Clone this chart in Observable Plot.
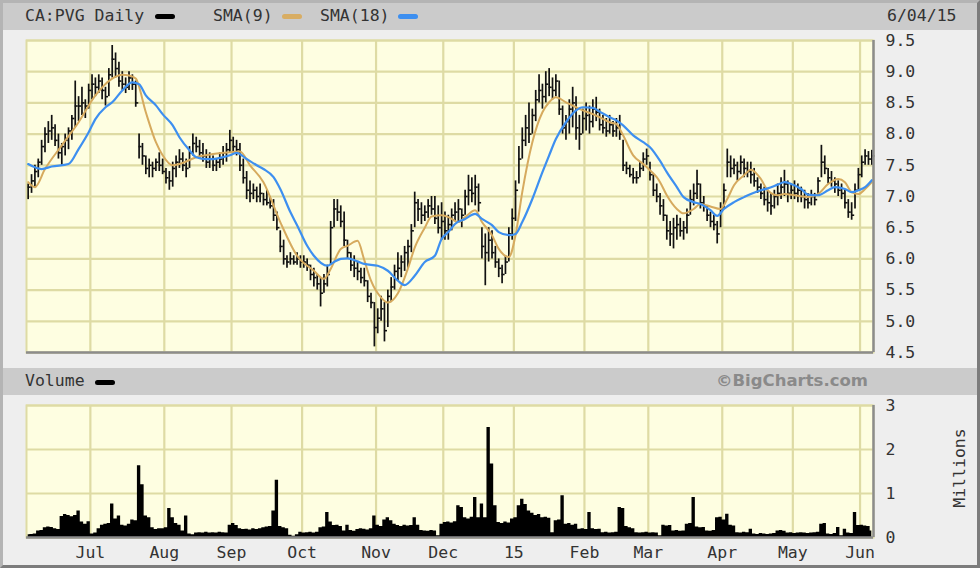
<!DOCTYPE html>
<html>
<head>
<meta charset="utf-8">
<script src="https://cdn.jsdelivr.net/npm/d3@7"></script>
<script src="https://cdn.jsdelivr.net/npm/@observablehq/plot@0.6"></script>
<style>
  body { margin: 0; background: #ffffff; }
  #chart { position: relative; width: 980px; height: 568px; background: #eeeeee; overflow: hidden;
           font-family: "DejaVu Sans Mono", monospace; color: #333; }
  .hbar { position: absolute; left: 3px; right: 3px; height: 27px; background: #cbcbcb; }
  .t { position: absolute; font-size: 16.5px; line-height: 20px; white-space: pre; color: #333; }
  .sw { position: absolute; width: 20px; height: 5px; border-radius: 3px; }
  .frame { position: absolute; left: 0; top: 0; width: 980px; height: 568px; box-sizing: border-box;
           border: 3px solid; border-color: #b4b4b4 #7c7c7c #7c7c7c #b4b4b4; pointer-events: none; }
  .svgwrap { position: absolute; left: 0; }
</style>
</head>
<body>
<div id="chart">
  <div class="hbar" style="top:3px"></div>
  <div class="t" style="left:25px;top:6px">CA:PVG Daily</div>
  <div class="sw" style="left:155px;top:14px;background:#000"></div>
  <div class="t" style="left:213px;top:6px">SMA(9)</div>
  <div class="sw" style="left:282px;top:14px;background:#d8ad63"></div>
  <div class="t" style="left:320px;top:6px">SMA(18)</div>
  <div class="sw" style="left:398px;top:14px;background:#3d8ff0"></div>
  <div class="t" style="left:887px;top:6px">6/04/15</div>

  <div id="price" class="svgwrap" style="top:30px"></div>

  <div class="hbar" style="top:368px"></div>
  <div class="t" style="left:25px;top:371px">Volume</div>
  <div class="sw" style="left:95px;top:380px;background:#000"></div>
  <div class="t" style="left:716px;top:371px;font-family:'DejaVu Sans',sans-serif;font-weight:bold;font-size:16.5px;color:#8a8a8a">©BigCharts.com</div>

  <div id="volume" class="svgwrap" style="top:395px"></div>
  <div class="t" style="left:920px;top:458px;width:80px;text-align:center;transform:rotate(-90deg);transform-origin:40px 10px;">Millions</div>
  <div class="frame"></div>
</div>
<script>
// ---- trading calendar (TSX) ----
const startDate = "2014-06-04";
const endDate = "2015-06-04";
const holidays = ["2014-07-01","2014-08-04","2014-09-01","2014-10-13","2014-12-25","2014-12-26",
                  "2015-01-01","2015-02-16","2015-04-03","2015-05-18"];
const monthLabels = ["Jul","Aug","Sep","Oct","Nov","Dec","15","Feb","Mar","Apr","May","Jun"];

// ---- daily prices (CAD) ----
const high = [
  7.20,7.35,7.50,7.60,7.90,8.10,8.20,8.30,8.15,8.00,7.85,8.00,8.10,8.30,8.85,8.60,8.75,8.55,8.80,            // Jun
  8.95,8.90,8.95,8.90,8.75,9.05,9.42,9.30,9.15,9.00,8.90,9.00,8.95,8.85,8.00,7.85,7.65,7.60,7.55,7.60,7.70,7.60, // Jul
  7.45,7.40,7.55,7.65,7.75,7.70,7.60,7.80,8.00,7.95,7.90,7.85,7.75,7.70,7.65,7.60,7.70,7.80,7.85,8.06,       // Aug
  7.95,7.90,7.85,7.60,7.40,7.25,7.20,7.15,7.20,7.05,7.10,7.00,6.95,6.75,6.45,6.30,6.05,6.10,6.05,6.10,6.05,  // Sep
  6.05,6.00,5.90,5.85,5.75,5.70,5.75,5.90,6.60,6.95,6.95,6.85,6.75,6.30,6.10,6.05,5.95,5.85,5.85,5.65,5.45,5.30, // Oct
  5.20,5.40,5.30,5.50,5.70,5.90,6.10,6.05,6.20,6.30,6.55,7.07,6.95,6.90,6.85,6.95,7.00,7.00,6.85,6.90,       // Nov
  6.75,6.70,6.80,6.90,6.95,6.80,7.10,7.34,7.30,7.34,7.20,6.50,6.40,6.50,6.45,6.20,6.00,5.90,6.05,6.50,6.80,  // Dec
  7.25,7.80,8.10,8.30,8.50,8.40,8.70,8.95,8.80,9.00,9.05,8.90,8.95,8.85,8.45,8.30,8.55,8.75,8.60,8.30,8.40,  // Jan
  8.50,8.45,8.55,8.59,8.40,8.30,8.25,8.30,8.20,8.25,8.30,7.90,7.55,7.50,7.45,7.40,7.55,7.70,7.76,            // Feb
  7.55,7.35,7.20,7.05,6.95,6.70,6.60,6.65,6.70,6.65,6.60,6.80,7.10,7.20,7.42,7.20,7.00,6.85,6.75,6.70,6.60,6.90, // Mar
  7.20,7.76,7.65,7.60,7.55,7.65,7.60,7.55,7.55,7.45,7.30,7.20,7.15,7.10,7.05,7.10,7.20,7.30,7.42,7.25,7.20,  // Apr
  7.25,7.20,7.15,7.10,7.05,7.10,7.05,7.30,7.82,7.65,7.45,7.40,7.30,7.25,7.20,7.10,6.95,6.90,7.20,7.45,       // May
  7.65,7.75,7.72,7.74                                                                                         // Jun
];
const low = [
  6.95,7.05,7.15,7.30,7.50,7.70,7.85,7.90,7.80,7.60,7.50,7.65,7.75,7.90,8.10,8.20,8.30,8.25,8.40,
  8.55,8.60,8.65,8.55,8.45,8.60,8.90,8.90,8.75,8.70,8.65,8.70,8.70,8.43,7.60,7.50,7.35,7.30,7.30,7.40,7.40,7.35,
  7.20,7.10,7.15,7.30,7.45,7.40,7.30,7.45,7.65,7.70,7.60,7.55,7.45,7.45,7.40,7.40,7.45,7.50,7.55,7.70,
  7.70,7.65,7.40,7.20,6.95,6.90,6.95,6.90,6.90,6.85,6.85,6.80,6.60,6.45,6.10,5.90,5.85,5.90,5.90,5.90,5.85,
  5.85,5.80,5.65,5.55,5.50,5.23,5.45,5.55,5.90,6.50,6.60,6.50,6.20,6.00,5.80,5.70,5.65,5.60,5.55,5.30,5.20,4.59,
  4.80,5.00,4.67,4.90,5.30,5.50,5.65,5.70,5.80,5.85,6.10,6.50,6.60,6.55,6.60,6.65,6.70,6.55,6.40,6.30,
  6.30,6.30,6.45,6.60,6.60,6.50,6.70,6.85,6.90,6.85,6.75,6.00,5.57,5.95,6.00,5.85,5.70,5.60,5.75,5.95,6.30,
  6.60,7.20,7.60,7.80,7.85,8.00,8.20,8.50,8.40,8.50,8.60,8.55,8.60,8.30,8.00,7.90,8.00,8.10,7.90,7.74,8.00,
  8.05,8.00,8.10,8.20,8.05,8.00,7.95,8.00,7.95,7.95,7.90,7.40,7.35,7.30,7.20,7.20,7.30,7.40,7.50,
  7.25,7.00,6.90,6.70,6.60,6.30,6.20,6.16,6.30,6.35,6.30,6.40,6.70,6.85,6.95,6.80,6.75,6.60,6.50,6.45,6.24,6.50,
  6.80,7.30,7.30,7.35,7.25,7.35,7.30,7.30,7.20,7.15,7.05,6.95,6.85,6.75,6.70,6.80,6.85,6.95,7.00,6.90,6.95,
  6.95,6.90,6.90,6.80,6.80,6.85,6.85,7.00,7.30,7.35,7.20,7.15,7.05,7.00,6.95,6.80,6.65,6.62,6.80,7.10,
  7.30,7.50,7.50,7.50
];
const close = [
  7.15,7.25,7.40,7.55,7.80,8.00,8.05,8.10,7.90,7.70,7.80,7.90,8.05,8.25,8.45,8.45,8.50,8.45,8.70,
  8.80,8.75,8.85,8.70,8.60,8.95,9.20,9.05,8.85,8.80,8.75,8.90,8.80,8.50,7.80,7.65,7.45,7.50,7.45,7.55,7.50,7.40,
  7.30,7.25,7.45,7.55,7.60,7.50,7.45,7.70,7.85,7.80,7.70,7.65,7.55,7.60,7.50,7.55,7.60,7.70,7.75,7.90,
  7.80,7.75,7.50,7.30,7.10,7.05,7.10,7.00,7.05,6.95,6.90,6.85,6.70,6.50,6.20,6.00,5.95,6.00,5.95,6.00,5.95,
  5.95,5.90,5.75,5.70,5.60,5.45,5.60,5.75,6.50,6.80,6.75,6.60,6.30,6.10,5.90,5.85,5.80,5.70,5.65,5.40,5.30,4.90,
  5.05,5.20,4.85,5.40,5.55,5.80,5.85,5.95,6.10,6.20,6.45,6.90,6.80,6.70,6.75,6.85,6.80,6.65,6.50,6.60,
  6.45,6.55,6.70,6.75,6.80,6.70,7.00,7.10,7.05,7.15,6.90,6.20,6.10,6.30,6.10,5.95,5.85,5.75,5.95,6.40,6.65,
  7.10,7.60,7.90,8.10,8.00,8.30,8.55,8.70,8.60,8.80,8.75,8.70,8.85,8.40,8.10,8.20,8.40,8.50,8.10,8.00,8.25,
  8.30,8.20,8.40,8.35,8.15,8.10,8.05,8.15,8.05,8.10,8.00,7.50,7.45,7.35,7.30,7.30,7.45,7.60,7.65,
  7.35,7.10,7.00,6.85,6.70,6.45,6.40,6.50,6.55,6.45,6.50,6.70,6.95,7.05,7.20,6.90,6.85,6.70,6.60,6.55,6.40,6.80,
  7.10,7.55,7.45,7.50,7.40,7.55,7.45,7.40,7.35,7.25,7.15,7.05,6.95,6.90,6.85,7.00,7.05,7.15,7.20,7.05,7.10,
  7.05,7.10,7.00,6.95,6.90,7.00,6.95,7.25,7.55,7.45,7.30,7.25,7.20,7.10,7.05,6.90,6.75,6.70,7.10,7.35,
  7.55,7.65,7.60,7.65
];
// ---- daily volume (millions of shares) ----
const volume = [
  0.06,0.07,0.08,0.15,0.16,0.22,0.24,0.23,0.20,0.18,0.48,0.52,0.50,0.47,0.50,0.60,0.35,0.30,0.36,
  0.08,0.10,0.20,0.28,0.30,0.32,0.76,0.42,0.49,0.28,0.26,0.30,0.40,0.38,1.63,1.20,0.49,0.45,0.22,0.18,0.20,0.20,
  0.22,0.66,0.45,0.32,0.28,0.15,0.49,0.08,0.06,0.10,0.11,0.10,0.12,0.10,0.11,0.10,0.12,0.11,0.10,0.28,
  0.32,0.27,0.20,0.18,0.19,0.17,0.20,0.18,0.20,0.22,0.24,0.25,0.60,1.30,0.25,0.22,0.20,0.05,0.03,0.06,0.12,
  0.10,0.11,0.12,0.10,0.12,0.22,0.24,0.57,0.35,0.27,0.28,0.25,0.15,0.28,0.16,0.14,0.18,0.20,0.19,0.17,0.20,0.49,
  0.28,0.25,0.40,0.45,0.38,0.30,0.27,0.25,0.28,0.26,0.27,0.45,0.28,0.16,0.15,0.14,0.16,0.15,0.04,0.30,
  0.34,0.35,0.33,0.36,0.72,0.68,0.45,0.42,0.46,0.91,0.45,0.76,0.45,2.50,1.67,0.72,0.34,0.32,0.35,0.33,0.42,
  0.45,0.72,0.87,0.75,0.60,0.55,0.50,0.52,0.45,0.46,0.44,0.11,0.38,0.40,0.95,0.30,0.32,0.28,0.30,0.19,0.20,
  0.18,0.57,0.20,0.18,0.19,0.11,0.12,0.10,0.11,0.12,0.68,0.66,0.25,0.22,0.20,0.11,0.10,0.11,0.12,
  0.10,0.11,0.10,0.04,0.28,0.26,0.27,0.15,0.16,0.14,0.15,0.30,0.32,0.91,0.24,0.22,0.23,0.15,0.14,0.16,0.45,0.46,
  0.40,0.53,0.28,0.26,0.11,0.10,0.12,0.11,0.19,0.08,0.07,0.09,0.08,0.07,0.08,0.09,0.15,0.16,0.14,0.10,0.11,
  0.09,0.10,0.11,0.10,0.09,0.10,0.11,0.12,0.30,0.32,0.08,0.07,0.09,0.23,0.04,0.19,0.10,0.09,0.57,0.27,
  0.28,0.26,0.25,0.15
];
// ---- moving averages (trading-day index, value) ----
const sma9Day = [0,2,5,10,15,20,25,28,30,32,35,38,40,43,45,50,55,60,63,66,70,75,80,85,88,90,93,95,98,100,
  102,105,107,110,113,115,118,120,123,125,128,130,133,135,138,140,143,145,147,150,153,155,157,160,163,165,
  168,170,173,175,177,180,183,185,187,188,190,193,195,198,200,203,206,208,210,213,215,218,220,223,225,228,
  232,235,238,241,243,245,247,249,251];
const sma9 = [7.23,7.15,7.44,7.82,8.19,8.62,8.89,8.95,8.94,8.89,8.35,7.87,7.66,7.50,7.52,7.63,7.68,7.71,7.72,7.50,
  7.23,6.59,6.05,5.81,5.68,5.84,6.16,6.21,6.29,5.98,5.65,5.38,5.30,5.45,5.85,6.18,6.50,6.68,6.70,6.67,
  6.59,6.67,6.78,6.59,6.38,6.16,6.03,6.38,7.07,7.87,8.35,8.51,8.59,8.51,8.43,8.38,8.32,8.27,8.19,8.16,
  7.98,7.66,7.52,7.42,7.31,7.23,7.02,6.80,6.73,6.80,6.88,6.84,6.80,6.96,7.18,7.34,7.43,7.28,7.10,7.02,
  7.04,7.02,6.99,7.04,7.20,7.28,7.23,7.07,7.04,7.12,7.23];
const sma18Day = [0,4,7,12,15,18,20,23,25,28,31,33,35,38,40,43,45,48,50,53,55,58,60,62,65,68,70,73,75,78,
  80,83,85,89,91,93,95,98,100,104,107,110,112,115,118,121,123,125,127,130,133,135,138,140,143,145,147,150,
  153,155,157,160,163,165,168,170,173,175,177,180,183,185,188,190,193,195,198,200,203,205,207,210,213,215,
  218,220,223,225,227,230,232,235,238,240,243,245,247,249,251];
const sma18 = [7.52,7.44,7.48,7.52,7.76,8.03,8.24,8.43,8.51,8.70,8.83,8.80,8.62,8.46,8.32,8.14,7.95,7.74,7.63,7.60,
  7.60,7.63,7.66,7.70,7.60,7.50,7.44,7.31,7.12,6.75,6.54,6.21,6.05,5.89,5.95,6.00,6.01,5.96,5.92,5.89,
  5.81,5.65,5.58,5.73,5.95,6.05,6.32,6.43,6.56,6.64,6.72,6.64,6.54,6.43,6.38,6.40,6.59,6.96,7.39,7.66,
  7.92,8.19,8.38,8.43,8.42,8.36,8.27,8.22,8.14,7.98,7.87,7.79,7.57,7.39,7.15,6.99,6.91,6.88,6.78,6.69,
  6.80,6.91,6.99,7.04,7.10,7.13,7.19,7.23,7.20,7.12,7.03,7.02,7.10,7.15,7.12,7.07,7.10,7.15,7.26];

const priceTicks = [4.5,5.0,5.5,6.0,6.5,7.0,7.5,8.0,8.5,9.0,9.5];
const volumeTicks = [0,1,2,3];

// ---- build tables ----
const holidaySet = new Set(holidays);
const dates = [];
for (let d = new Date(startDate + "T00:00:00Z"); d <= new Date(endDate + "T00:00:00Z"); d = new Date(d.getTime() + 864e5)) {
  const wd = d.getUTCDay();
  if (wd === 0 || wd === 6) continue;
  if (holidaySet.has(d.toISOString().slice(0, 10))) continue;
  dates.push(d);
}
const rows = dates.map((date, i) => ({i, date, h: high[i], l: low[i], c: close[i], v: volume[i]}));
const monthStarts = rows.filter((r, i) => i > 0 && r.date.getUTCMonth() !== rows[i - 1].date.getUTCMonth()).map(r => r.i);
const monthLabelAt = new Map(monthStarts.map((i, k) => [i - 0.5, monthLabels[k]]));
const sma9Rows = sma9Day.map((i, k) => ({i, v: sma9[k]}));
const sma18Rows = sma18Day.map((i, k) => ({i, v: sma18[k]}));

const N = rows.length;
const xDomain = [-0.5, N - 0.5];
const plotBg = "#fefee1";
const gridColor = "#dedba4";
const edgeColor = "#8c8c8c";
const style = {background: "transparent", fontFamily: "'DejaVu Sans Mono', monospace", fontSize: "16.5px", color: "#333", overflow: "visible"};

const price = Plot.plot({
  width: 980, height: 332,
  marginLeft: 26, marginRight: 107, marginTop: 10, marginBottom: 10,
  style,
  x: {domain: xDomain, axis: null},
  y: {domain: [4.5, 9.5], axis: "right", ticks: priceTicks, tickSize: 0, tickPadding: 12,
      tickFormat: d => d.toFixed(1), label: null},
  marks: [
    Plot.frame({fill: plotBg, stroke: gridColor, strokeWidth: 2}),
    Plot.ruleY(priceTicks, {stroke: gridColor, strokeWidth: 2.2}),
    Plot.ruleX(monthStarts, {x: d => d - 0.5, stroke: gridColor, strokeWidth: 2.2}),
    Plot.ruleX(rows, {x: "i", y1: "l", y2: "h", stroke: "#111", strokeWidth: 1.7}),
    Plot.ruleY(rows, {y: "c", x1: "i", x2: d => d.i + 0.9, stroke: "#111", strokeWidth: 1.6}),
    Plot.line(sma9Rows, {x: "i", y: "v", stroke: "#d6aa5e", strokeWidth: 2, curve: "monotone-x"}),
    Plot.line(sma18Rows, {x: "i", y: "v", stroke: "#3d8ff0", strokeWidth: 2.2, curve: "monotone-x"}),
    Plot.ruleY([4.5], {stroke: edgeColor, strokeWidth: 2.5}),
    Plot.ruleX([N - 0.5], {stroke: edgeColor, strokeWidth: 2.5})
  ]
});
document.getElementById("price").appendChild(price);

const vol = Plot.plot({
  width: 980, height: 170,
  marginLeft: 26, marginRight: 107, marginTop: 10, marginBottom: 28,
  style,
  x: {domain: xDomain, ticks: monthStarts.map(i => i - 0.5), tickFormat: d => monthLabelAt.get(d),
      tickSize: 0, tickPadding: 9, label: null},
  y: {domain: [0, 3], axis: "right", ticks: volumeTicks, tickSize: 0, tickPadding: 12,
      tickFormat: d => String(d), label: null},
  marks: [
    Plot.frame({fill: plotBg, stroke: gridColor, strokeWidth: 2}),
    Plot.ruleY(volumeTicks, {stroke: gridColor, strokeWidth: 2.2}),
    Plot.ruleX(monthStarts, {x: d => d - 0.5, stroke: gridColor, strokeWidth: 2.2}),
    Plot.areaY(rows, {x: "i", y: "v", curve: "step", fill: "#000"}),
    Plot.ruleY([0], {stroke: edgeColor, strokeWidth: 2.5}),
    Plot.ruleX([N - 0.5], {stroke: edgeColor, strokeWidth: 2.5})
  ]
});
document.getElementById("volume").appendChild(vol);
</script>
</body>
</html>
